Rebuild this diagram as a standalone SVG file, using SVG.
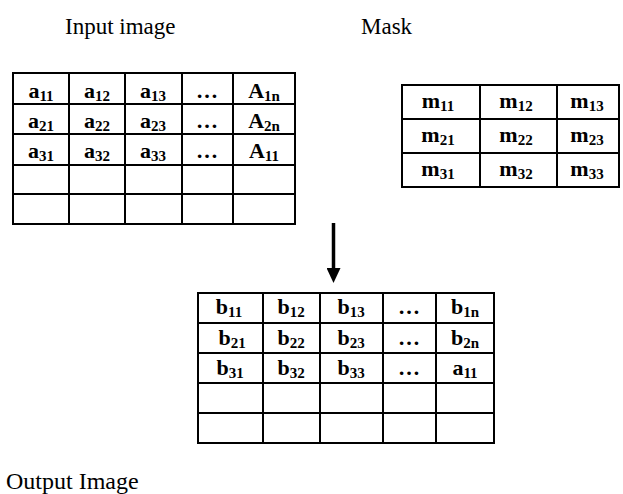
<svg xmlns="http://www.w3.org/2000/svg" width="623" height="494" viewBox="0 0 623 494">
  <style>
    .grid { fill: none; stroke: #000; stroke-width: 2; }
    .cell { font-family: "Liberation Serif", "Times New Roman", serif; font-weight: bold; font-size: 22px; fill: #000; text-anchor: middle; }
    .sub { font-size: 15px; }
    .title { font-family: "Liberation Serif", "Times New Roman", serif; font-size: 23px; fill: #000; }
    .caption { font-family: "Liberation Serif", "Times New Roman", serif; font-size: 24px; fill: #000; }
  </style>
  <defs>
    <marker id="arrowhead" markerWidth="15" markerHeight="14" refX="0" refY="7" orient="auto" markerUnits="userSpaceOnUse" viewBox="0 0 15 14">
      <path d="M0,0 L15,7 L0,14 Z" fill="#000"/>
    </marker>
  </defs>

  <rect width="623" height="494" fill="#fff"/>

  <text class="title" x="65" y="34">Input image</text>
  <text class="title" x="361" y="34">Mask</text>
  <text class="caption" x="6" y="489">Output Image</text>

  <!-- input image grid: 5 columns x 5 rows -->
  <g id="input-image">
    <rect class="grid" x="13" y="73" width="282" height="151"/>
    <path class="grid" d="M69,73V224M125,73V224M182,73V224M233,73V224M13,104H295M13,134H295M13,165H295M13,194H295"/>
    <text class="cell" x="41" y="98">a<tspan class="sub" dy="3">11</tspan></text>
    <text class="cell" x="97" y="98">a<tspan class="sub" dy="3">12</tspan></text>
    <text class="cell" x="153" y="98">a<tspan class="sub" dy="3">13</tspan></text>
    <text class="cell" x="207" y="98">…</text>
    <text class="cell" x="264" y="98">A<tspan class="sub" dy="3">1n</tspan></text>
    <text class="cell" x="41" y="128">a<tspan class="sub" dy="3">21</tspan></text>
    <text class="cell" x="97" y="128">a<tspan class="sub" dy="3">22</tspan></text>
    <text class="cell" x="153" y="128">a<tspan class="sub" dy="3">23</tspan></text>
    <text class="cell" x="207" y="128">…</text>
    <text class="cell" x="264" y="128">A<tspan class="sub" dy="3">2n</tspan></text>
    <text class="cell" x="41" y="158">a<tspan class="sub" dy="3">31</tspan></text>
    <text class="cell" x="97" y="158">a<tspan class="sub" dy="3">32</tspan></text>
    <text class="cell" x="153" y="158">a<tspan class="sub" dy="3">33</tspan></text>
    <text class="cell" x="207" y="158">…</text>
    <text class="cell" x="264" y="158">A<tspan class="sub" dy="3">11</tspan></text>
  </g>

  <!-- 3x3 mask -->
  <g id="mask">
    <rect class="grid" x="402" y="85" width="217" height="102"/>
    <path class="grid" d="M480,85V187M557,85V187M402,119H619M402,153H619"/>
    <text class="cell" x="438" y="108">m<tspan class="sub" dy="3">11</tspan></text>
    <text class="cell" x="516" y="108">m<tspan class="sub" dy="3">12</tspan></text>
    <text class="cell" x="587" y="108">m<tspan class="sub" dy="3">13</tspan></text>
    <text class="cell" x="438" y="142">m<tspan class="sub" dy="3">21</tspan></text>
    <text class="cell" x="516" y="142">m<tspan class="sub" dy="3">22</tspan></text>
    <text class="cell" x="587" y="142">m<tspan class="sub" dy="3">23</tspan></text>
    <text class="cell" x="438" y="176">m<tspan class="sub" dy="3">31</tspan></text>
    <text class="cell" x="516" y="176">m<tspan class="sub" dy="3">32</tspan></text>
    <text class="cell" x="587" y="176">m<tspan class="sub" dy="3">33</tspan></text>
  </g>

  <!-- output image grid: 5 columns x 5 rows -->
  <g id="output-image">
    <rect class="grid" x="198" y="293" width="296" height="150"/>
    <path class="grid" d="M263,293V443M320,293V443M383,293V443M436,293V443M198,323H494M198,353H494M198,383H494M198,413H494"/>
    <text class="cell" x="229" y="314">b<tspan class="sub" dy="3">11</tspan></text>
    <text class="cell" x="291" y="314">b<tspan class="sub" dy="3">12</tspan></text>
    <text class="cell" x="351" y="314">b<tspan class="sub" dy="3">13</tspan></text>
    <text class="cell" x="409" y="314">…</text>
    <text class="cell" x="465" y="314">b<tspan class="sub" dy="3">1n</tspan></text>
    <text class="cell" x="232" y="345">b<tspan class="sub" dy="3">21</tspan></text>
    <text class="cell" x="291" y="345">b<tspan class="sub" dy="3">22</tspan></text>
    <text class="cell" x="351" y="345">b<tspan class="sub" dy="3">23</tspan></text>
    <text class="cell" x="409" y="345">…</text>
    <text class="cell" x="465" y="345">b<tspan class="sub" dy="3">2n</tspan></text>
    <text class="cell" x="230" y="375">b<tspan class="sub" dy="3">31</tspan></text>
    <text class="cell" x="291" y="375">b<tspan class="sub" dy="3">32</tspan></text>
    <text class="cell" x="351" y="375">b<tspan class="sub" dy="3">33</tspan></text>
    <text class="cell" x="409" y="375">…</text>
    <text class="cell" x="465" y="375">a<tspan class="sub" dy="3">11</tspan></text>
  </g>

  <g id="connectors">
    <line x1="333.5" y1="223" x2="333.5" y2="268" stroke="#000" stroke-width="3.5" marker-end="url(#arrowhead)"/>
  </g>
</svg>
